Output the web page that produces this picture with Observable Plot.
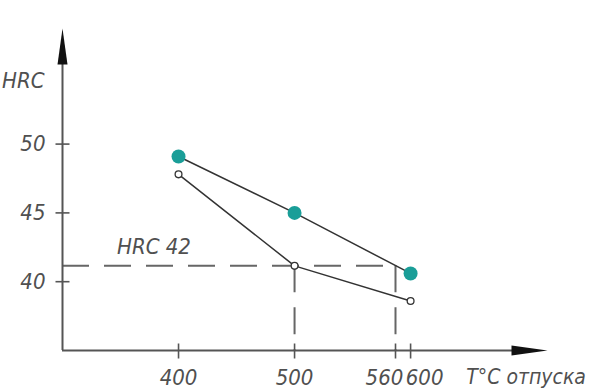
<!DOCTYPE html>
<html><head><meta charset="utf-8">
<script src="https://cdn.jsdelivr.net/npm/d3@7"></script>
<script src="https://cdn.jsdelivr.net/npm/@observablehq/plot@0.6"></script>
<style>
html,body{margin:0;padding:0;background:#fff;}
#chart svg{display:block;}
</style>
</head><body><div id="chart"></div>
<script>
// ---- data ----
const temps = [400, 500, 600];
const hrcUpper = [49.1, 45.0, 40.6];
const hrcLower = [47.8, 41.15, 38.6];
const yTicks = [40, 45, 50];
const yTickLabels = ["40", "45", "50"];
const xTickValues = [400, 500, 587, 600];
const xTickLabels = ["400", "500", "560", "600"];
const hrc42Level = 41.15;
const hrc42Temps = [500, 587];
const hrc42Label = "HRC 42";
const yAxisLabel = "HRC";
const xAxisLabel = "T°C отпуска";

const xMin = 300, xMax = 718, yMin = 35, yMax = 58.4;

const upper = temps.map((t, i) => ({t, v: hrcUpper[i]}));
const lower = temps.map((t, i) => ({t, v: hrcLower[i]}));
const yt = yTicks.map((v, i) => ({v, label: yTickLabels[i]}));
const xt = xTickValues.map((t, i) => ({t, label: xTickLabels[i]}));

const arrowHead = {draw(ctx) { ctx.moveTo(0, 0); ctx.lineTo(-5, 36); ctx.lineTo(5, 36); ctx.closePath(); }};
const hTick = {draw(ctx) { ctx.moveTo(-7, 0); ctx.lineTo(7, 0); }};
const vTick = {draw(ctx) { ctx.moveTo(0, -7); ctx.lineTo(0, 8); }};

const axisColor = "#555";
const textColor = "#505050";
const font = "'Liberation Sans Narrow', 'DejaVu Sans Condensed', sans-serif";
const fs = 22;
const dash = "27,15";
const txt = {fontSize: fs, fontFamily: font, fontStyle: "italic", fill: textColor};

const plot = Plot.plot({
  width: 590, height: 390,
  marginLeft: 62, marginRight: 43, marginTop: 28, marginBottom: 40,
  x: {domain: [xMin, xMax], axis: null},
  y: {domain: [yMin, yMax], axis: null},
  marks: [
    // dashed guide lines
    Plot.ruleY([hrc42Level], {x1: xMin, x2: d3.max(hrc42Temps), stroke: "#666", strokeWidth: 2, strokeDasharray: dash}),
    Plot.ruleX(hrc42Temps, {y1: hrc42Level, y2: yMin, stroke: "#666", strokeWidth: 2, strokeDasharray: dash}),
    // axes
    Plot.ruleX([xMin], {y1: yMin, y2: yMax - 1.5, stroke: axisColor, strokeWidth: 2}),
    Plot.ruleY([yMin], {x1: xMin, x2: xMax - 15, stroke: axisColor, strokeWidth: 2}),
    Plot.dot([{x: xMin, y: yMax}], {x: "x", y: "y", symbol: arrowHead, fill: "#111", stroke: "none"}),
    Plot.dot([{x: xMax, y: yMin}], {x: "x", y: "y", symbol: arrowHead, rotate: 90, fill: "#111", stroke: "none"}),
    // ticks
    Plot.dot(yt, {x: () => xMin, y: "v", symbol: hTick, fill: "none", stroke: axisColor, strokeWidth: 1.6}),
    Plot.dot(xt, {x: "t", y: () => yMin, symbol: vTick, fill: "none", stroke: axisColor, strokeWidth: 1.6}),
    // tick labels
    Plot.text(yt, {x: () => xMin, y: "v", text: "label", dx: -17, textAnchor: "end", ...txt}),
    Plot.text(xt.filter(d => d.label === "400" || d.label === "500"), {x: "t", y: () => yMin, text: "label", dy: 27, ...txt}),
    Plot.text(xt.filter(d => d.label === "560"), {x: "t", y: () => yMin, text: "label", dy: 27, dx: -11, ...txt}),
    Plot.text(xt.filter(d => d.label === "600"), {x: "t", y: () => yMin, text: "label", dy: 27, dx: 14, ...txt}),
    // axis titles
    Plot.text([yAxisLabel], {x: () => xMin, y: () => 54.6, text: d => d, dx: -18, textAnchor: "end", ...txt}),
    Plot.text([xAxisLabel], {x: () => 648, y: () => yMin, text: d => d, dy: 27, textAnchor: "start", ...txt, fontSize: 21}),
    Plot.text([hrc42Label], {x: () => 347, y: () => hrc42Level, text: d => d, dy: -19, textAnchor: "start", ...txt}),
    // data lines
    Plot.line(upper, {x: "t", y: "v", stroke: "#333", strokeWidth: 1.5}),
    Plot.line(lower, {x: "t", y: "v", stroke: "#333", strokeWidth: 1.5}),
    Plot.dot(lower, {x: "t", y: "v", r: 3.4, fill: "#fff", stroke: "#333", strokeWidth: 1.3}),
    Plot.dot(upper, {x: "t", y: "v", r: 7, fill: "#1a9e98", stroke: "none"})
  ]
});
document.getElementById("chart").appendChild(plot);
</script>
</body></html>
